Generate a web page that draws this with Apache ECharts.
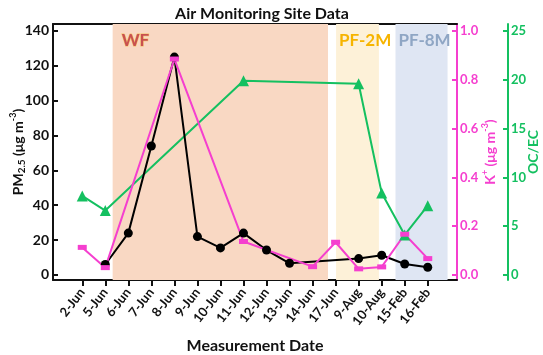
<!DOCTYPE html>
<html>
<head>
<meta charset="utf-8">
<script src="https://cdn.jsdelivr.net/npm/echarts@6/dist/echarts.min.js"></script>
<style>
  html, body { margin: 0; padding: 0; background: #fff; }
  #chart { width: 543px; height: 355px; }
</style>
</head>
<body>
<div id="chart"></div>
<script>
const dates = ['2-Jun', '5-Jun', '6-Jun', '7-Jun', '8-Jun', '9-Jun', '10-Jun', '11-Jun', '12-Jun', '13-Jun', '14-Jun', '17-Jun', '9-Aug', '10-Aug', '15-Feb', '16-Feb']
const pm25 = [null, 6, 24, 74, 125, 22, 15.5, 24, 14.3, 6.7, null, null, 9.4, 11.3, 6.3, 4.4]
const kPlus = [0.113, 0.03, null, null, 0.885, null, null, 0.137, null, null, 0.034, 0.134, 0.025, 0.033, 0.167, 0.067]
const ocec = [8.1, 6.6, null, null, null, null, null, 19.9, null, null, null, null, 19.6, 8.4, 4.1, 7.1]
const pmTicks = [0, 20, 40, 60, 80, 100, 120, 140]
const kTicks = [0, 0.2, 0.4, 0.6, 0.8, 1.0]
const ocTicks = [0, 5, 10, 15, 20, 25]
const regionNames = ['WF', 'PF-2M', 'PF-8M']
const regionFrom = [1.32, 11.02, 13.6]
const regionTo = [10.67, 12.88, 15.86]

const FONT = 'Lato'
const PINK = '#f53fcf'
const GREEN = '#14c060'
const regionFill = ['#f9d8c3', '#fdf1d8', '#dfe6f3']
const regionText = ['#c9504f', '#f6b400', '#8fa6c4']

const toPairs = arr => arr.map((v, i) => [i, v]).filter(p => p[1] !== null)

const chart = echarts.init(document.getElementById('chart'))

const yLabel = (color, size) => ({
  color: color, fontFamily: FONT, fontWeight: 'bold', fontSize: size
})

const option = {
  animation: false,
  title: {
    text: 'Air Monitoring Site Data',
    left: 257, top: 1, textAlign: 'center',
    textStyle: { fontFamily: FONT, fontWeight: 'bold', fontSize: 16, color: '#111' }
  },
  grid: { left: 53, right: 86, top: 24, bottom: 75, outerBoundsMode: 'none' },
  xAxis: [
    {
      type: 'value', min: -1.27, max: 16.27,
      name: 'Measurement Date', nameLocation: 'middle', nameGap: 58, nameMoveOverlap: false,
      nameTextStyle: { fontFamily: FONT, fontWeight: 'bold', fontSize: 16, color: '#111' },
      axisLine: { onZero: false, lineStyle: { color: '#111', width: 2 } },
      axisTick: { show: true, length: 6, customValues: dates.map((d, i) => i), lineStyle: { color: '#111', width: 2 } },
      axisLabel: {
        customValues: dates.map((d, i) => i),
        formatter: v => dates[v] || '',
        rotate: 52, margin: 10,
        color: '#111', fontFamily: FONT, fontWeight: 'bold', fontSize: 13
      },
      splitLine: { show: false }
    },
    {
      type: 'value', position: 'top', min: -1.27, max: 16.27,
      axisLine: { show: true, onZero: false, lineStyle: { color: '#111', width: 2 } },
      axisTick: { show: false }, axisLabel: { show: false }, splitLine: { show: false }
    }
  ],
  yAxis: [
    {
      type: 'value', min: -2.9, max: 144,
      name: '{a|PM}{s|2.5}{a| (μg m}{u|-3}{a|)}', nameLocation: 'middle', nameGap: 26, nameMoveOverlap: false,
      nameTextStyle: {
        rich: {
          a: { fontFamily: FONT, fontWeight: 'bold', fontSize: 14, color: '#111', lineHeight: 18, verticalAlign: 'middle' },
          s: { fontFamily: FONT, fontWeight: 'bold', fontSize: 10, color: '#111', lineHeight: 18, verticalAlign: 'bottom' },
          u: { fontFamily: FONT, fontWeight: 'bold', fontSize: 9, color: '#111', lineHeight: 18, verticalAlign: 'top' }
        }
      },
      axisLine: { show: true, onZero: false, lineStyle: { color: '#111', width: 2 } },
      axisTick: { show: true, inside: true, length: 5, customValues: pmTicks, lineStyle: { color: '#111', width: 2 } },
      axisLabel: Object.assign({ customValues: pmTicks, margin: 4 }, yLabel('#111', 14)),
      splitLine: { show: false }
    },
    {
      type: 'value', position: 'right', min: -2.9 / 140, max: 144 / 140,
      name: '{a|K}{u|+}{a| (μg m}{u|-3}{a|)}', nameLocation: 'middle', nameGap: 24, nameMoveOverlap: false,
      nameTextStyle: {
        rich: {
          a: { fontFamily: FONT, fontWeight: 'bold', fontSize: 14, color: PINK, lineHeight: 18, verticalAlign: 'middle' },
          u: { fontFamily: FONT, fontWeight: 'bold', fontSize: 9, color: PINK, lineHeight: 18, verticalAlign: 'top' }
        }
      },
      axisLine: { show: true, onZero: false, lineStyle: { color: PINK, width: 2 } },
      axisTick: { show: true, inside: true, length: 5, customValues: kTicks, lineStyle: { color: PINK, width: 2 } },
      axisLabel: Object.assign({ customValues: kTicks, margin: 3, formatter: v => v.toFixed(1) }, yLabel(PINK, 13)),
      splitLine: { show: false }
    },
    {
      type: 'value', position: 'right', offset: 51, min: -2.9 * 25 / 140, max: 144 * 25 / 140,
      name: 'OC/EC', nameLocation: 'middle', nameGap: 18, nameMoveOverlap: false,
      nameTextStyle: { fontFamily: FONT, fontWeight: 'bold', fontSize: 14, color: GREEN },
      axisLine: { show: true, onZero: false, lineStyle: { color: GREEN, width: 2 } },
      axisTick: { show: true, inside: true, length: 5, customValues: ocTicks, lineStyle: { color: GREEN, width: 2 } },
      axisLabel: Object.assign({ customValues: ocTicks, margin: 3 }, yLabel(GREEN, 13)),
      splitLine: { show: false }
    }
  ],
  series: [
    {
      name: 'regions', type: 'line', data: [], xAxisIndex: 0, yAxisIndex: 0, silent: true,
      markArea: {
        silent: true,
        data: regionNames.map((n, i) => [
          {
            name: n, xAxis: regionFrom[i],
            itemStyle: { color: regionFill[i] },
            label: {
              show: true, position: 'insideTopLeft', offset: [i === 0 ? 4 : -2, 3],
              color: regionText[i], fontFamily: FONT, fontWeight: 'bold', fontSize: 17,
              textBorderColor: i === 0 ? '#f2c46b' : 'transparent', textBorderWidth: i === 0 ? 1 : 0
            }
          },
          { xAxis: regionTo[i] }
        ])
      }
    },
    {
      name: 'OC/EC', type: 'line', yAxisIndex: 2, data: toPairs(ocec),
      symbol: 'triangle', symbolSize: 11,
      lineStyle: { color: GREEN, width: 2 }, itemStyle: { color: GREEN }
    },
    {
      name: 'PM2.5', type: 'line', yAxisIndex: 0, data: toPairs(pm25),
      symbol: 'circle', symbolSize: 9,
      lineStyle: { color: '#000', width: 2 }, itemStyle: { color: '#000' }
    },
    {
      name: 'K+', type: 'line', yAxisIndex: 1, data: toPairs(kPlus),
      symbol: 'rect', symbolSize: [9, 5],
      lineStyle: { color: PINK, width: 2 }, itemStyle: { color: PINK }
    }
  ]
}

chart.setOption(option)
</script>
</body>
</html>
